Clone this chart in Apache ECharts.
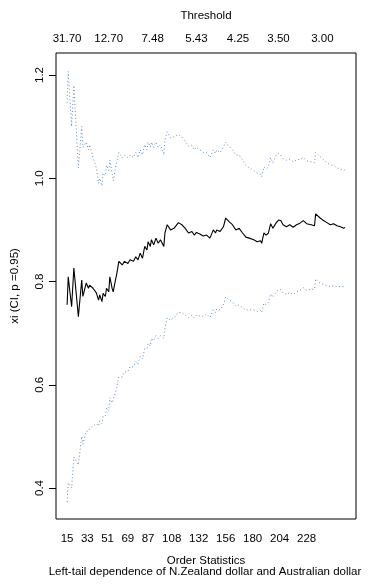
<!DOCTYPE html>
<html>
<head>
<meta charset="utf-8">
<script src="https://cdn.jsdelivr.net/npm/echarts@6/dist/echarts.min.js"></script>
<style>html,body{margin:0;padding:0;background:#fff}#c{width:368px;height:584px}</style>
</head>
<body>
<div id="c"></div>
<script>
// Order statistics (k) sampled along the curves
var orderStats = [15,16,19,21,25,28,29,32,34,35,38,41,43,44,46,47,49,50,52,53,55,56,58,59,61,64,66,69,71,74,76,78,80,82,84,86,87,89,90,92,94,96,98,101,102,104,107,110,114,117,120,123,126,128,130,133,136,139,142,145,147,148,151,154,156,159,162,165,168,171,174,177,181,184,187,188,190,192,194,196,198,201,203,205,207,210,213,216,219,222,225,228,232,235,236,240,243,246,249,252,255,258,261,262];
// Shape estimate xi
var xiValues = [0.755,0.809,0.751,0.826,0.732,0.803,0.771,0.797,0.787,0.793,0.787,0.778,0.764,0.774,0.761,0.777,0.771,0.787,0.780,0.809,0.787,0.780,0.803,0.813,0.839,0.832,0.839,0.835,0.842,0.839,0.848,0.842,0.855,0.845,0.868,0.861,0.877,0.868,0.881,0.871,0.884,0.874,0.881,0.868,0.894,0.910,0.900,0.903,0.914,0.910,0.903,0.894,0.897,0.890,0.895,0.892,0.888,0.890,0.884,0.900,0.894,0.900,0.897,0.906,0.923,0.916,0.910,0.900,0.903,0.894,0.886,0.884,0.881,0.877,0.879,0.874,0.894,0.890,0.894,0.912,0.903,0.914,0.919,0.918,0.910,0.906,0.910,0.905,0.910,0.913,0.918,0.912,0.910,0.908,0.931,0.923,0.918,0.914,0.910,0.912,0.908,0.906,0.903,0.905];
// Upper confidence bound
var upperValues = [1.146,1.207,1.10,1.18,1.02,1.10,1.06,1.07,1.055,1.065,1.04,1.02,0.99,1.0,0.985,1.01,1.005,1.025,1.015,1.035,1.01,0.995,1.02,1.03,1.05,1.04,1.045,1.04,1.045,1.04,1.05,1.04,1.055,1.045,1.065,1.055,1.07,1.06,1.07,1.06,1.07,1.06,1.065,1.045,1.075,1.09,1.078,1.08,1.085,1.08,1.072,1.062,1.064,1.055,1.06,1.055,1.05,1.05,1.04,1.055,1.048,1.055,1.05,1.06,1.07,1.062,1.055,1.045,1.045,1.035,1.025,1.02,1.015,1.01,1.008,1.003,1.022,1.018,1.022,1.04,1.03,1.045,1.048,1.045,1.038,1.035,1.037,1.032,1.035,1.037,1.04,1.034,1.032,1.03,1.05,1.042,1.036,1.03,1.026,1.025,1.02,1.018,1.016,1.016];
// Lower confidence bound
var lowerValues = [0.373,0.41,0.40,0.46,0.445,0.50,0.485,0.51,0.51,0.515,0.52,0.525,0.52,0.53,0.525,0.54,0.54,0.555,0.55,0.575,0.565,0.565,0.585,0.595,0.615,0.615,0.625,0.625,0.635,0.635,0.645,0.64,0.655,0.65,0.67,0.67,0.68,0.675,0.69,0.685,0.695,0.69,0.695,0.69,0.71,0.73,0.725,0.73,0.74,0.74,0.735,0.73,0.735,0.73,0.735,0.733,0.733,0.737,0.73,0.745,0.74,0.747,0.745,0.755,0.77,0.765,0.76,0.752,0.755,0.75,0.745,0.745,0.745,0.742,0.744,0.74,0.758,0.755,0.76,0.776,0.77,0.78,0.785,0.784,0.778,0.775,0.779,0.775,0.78,0.783,0.788,0.783,0.785,0.785,0.805,0.797,0.794,0.792,0.79,0.792,0.79,0.79,0.79,0.791];
// Axis ticks
var bottomTicks = [15,33,51,69,87,108,132,156,180,204,228];
var topTicks = [15,52,91,130,167,203,242];
var thresholdLabels = ['31.70','12.70','7.48','5.43','4.25','3.50','3.00'];
var yTicks = [0.4,0.6,0.8,1.0,1.2];

function pairs(vals){ return orderStats.map(function(k,i){ return [k, vals[i]]; }); }

var FONT = '"Liberation Sans", Arial, sans-serif';
var FS = 11.5;
var chart = echarts.init(document.getElementById('c'), null, {renderer:'canvas'});
chart.setOption({
  animation: false,
  backgroundColor: '#fff',
  textStyle: {fontFamily: FONT},
  grid: {left: 56, right: 12, top: 53, bottom: 65, show: true, borderColor: '#000', borderWidth: 1, backgroundColor: 'transparent'},
  xAxis: [{
    type: 'value', position: 'bottom', min: 5.12, max: 271.88,
    name: 'Order Statistics', nameLocation: 'middle', nameGap: 36,
    nameTextStyle: {fontFamily: FONT, fontSize: FS, color: '#000'},
    axisLine: {show: false}, axisTick: {show: false}, splitLine: {show: false},
    axisLabel: {customValues: bottomTicks, fontFamily: FONT, fontSize: FS, color: '#000', margin: 14}
  },{
    type: 'value', position: 'top', min: 5.12, max: 271.88,
    name: 'Threshold', nameLocation: 'middle', nameGap: 31,
    nameTextStyle: {fontFamily: FONT, fontSize: FS, color: '#000'},
    axisLine: {show: false}, axisTick: {show: false}, splitLine: {show: false},
    axisLabel: {customValues: topTicks, fontFamily: FONT, fontSize: FS, color: '#000', margin: 8,
      formatter: function(v){ var i = topTicks.indexOf(v); return i >= 0 ? thresholdLabels[i] : ''; }}
  }],
  yAxis: {
    type: 'value', min: 0.34, max: 1.2426,
    name: 'xi (CI, p =0.95)', nameLocation: 'middle', nameGap: 35,
    nameTextStyle: {fontFamily: FONT, fontSize: FS, color: '#000'},
    axisLine: {show: false}, splitLine: {show: false},
    axisTick: {show: true, customValues: yTicks, length: 7, lineStyle: {color: '#000'}},
    axisLabel: {customValues: yTicks, rotate: 90, margin: 10, fontFamily: FONT, fontSize: FS, color: '#000',
      formatter: function(v){ return v.toFixed(1); }}
  },
  graphic: [{
    type: 'text', x: 205, y: 572,
    style: {text: 'Left-tail dependence of N.Zealand dollar and Australian dollar', fontFamily: FONT, fontSize: FS, fill: '#000', textAlign: 'center', textVerticalAlign: 'middle'}
  }],
  series: [
    {type: 'line', data: pairs(xiValues), showSymbol: false, lineStyle: {color: '#000', width: 1.1}, z: 3},
    {type: 'line', data: pairs(upperValues), showSymbol: false, lineStyle: {color: '#4a78b0', width: 1, type: [1,2.5], opacity: 0.85}, z: 2},
    {type: 'line', data: pairs(lowerValues), showSymbol: false, lineStyle: {color: '#4a78b0', width: 1, type: [1,2.5], opacity: 0.85}, z: 2}
  ]
});
</script>
</body>
</html>
